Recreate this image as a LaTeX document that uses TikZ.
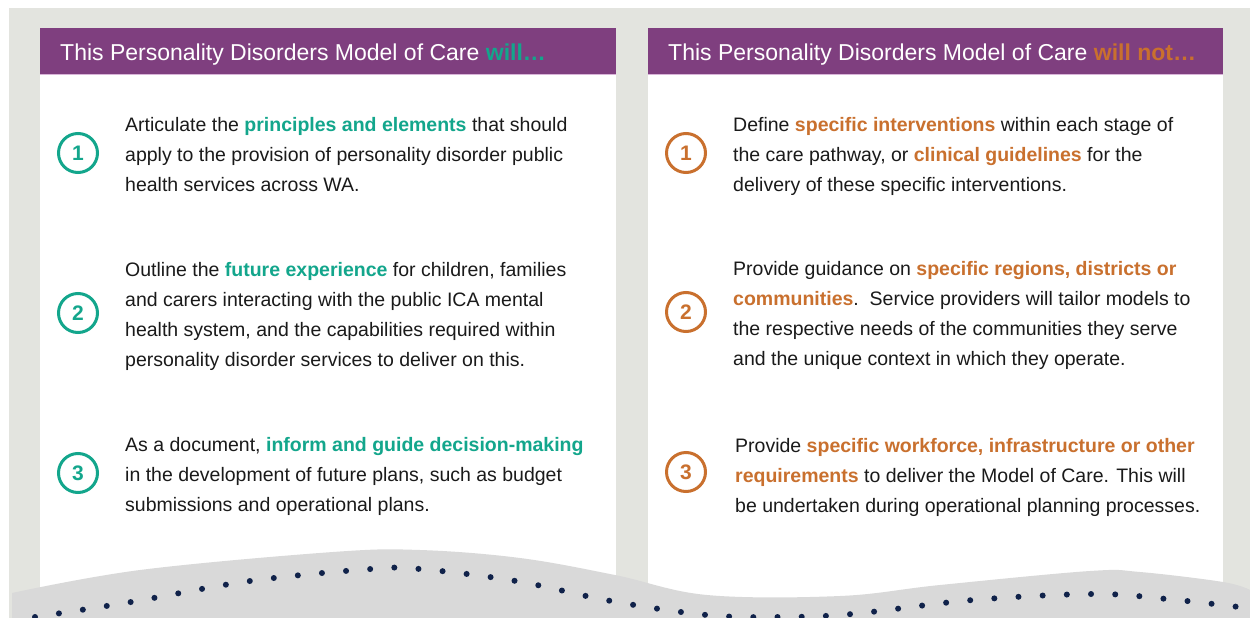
\documentclass[tikz,border=0pt]{standalone}
\usepackage{fontspec}
\setmainfont{Liberation Sans}
\usetikzlibrary{positioning}

\definecolor{pageGrey}{HTML}{E3E4DF}
\definecolor{waveGrey}{HTML}{D9D9D9}
\definecolor{mocPurple}{HTML}{7F3F7F}
\definecolor{headerEdge}{HTML}{D8B4D8}
\definecolor{willTeal}{HTML}{13A68C}
\definecolor{notOrange}{HTML}{C9702E}
\definecolor{dotNavy}{HTML}{10224A}
\definecolor{bodyText}{HTML}{1A1A1A}

\newcommand{\willdo}[1]{\textcolor{willTeal}{\textbf{#1}}}
\newcommand{\willnot}[1]{\textcolor{notOrange}{\textbf{#1}}}

\begin{document}
\begin{tikzpicture}[x=1pt, y=-1pt,
        panel/.style={fill=white},
        header/.style={anchor=base west, inner sep=0pt, text=white, font=\fontsize{23}{28}\selectfont},
        numcircle/.style={circle, draw=#1, line width=3pt, minimum size=39pt, inner sep=0pt, text=#1, font=\fontsize{21}{24}\selectfont},
        item/.style={anchor=base west, inner sep=0pt, align=left, text=bodyText, font=\fontsize{19.5}{30}\selectfont},
        ]
        \useasboundingbox (0,0) rectangle (1250,618);
        \fill[pageGrey] (9,8) rectangle (1250,618);

        % the two panels
        \fill[panel] (40,28) rectangle (616,618);
        \fill[panel] (648,28) rectangle (1223,618);
        \fill[mocPurple] (40,28) rectangle (616,75);
        \fill[mocPurple] (648,28) rectangle (1223,75);
        \draw[headerEdge, line width=1pt] (40,75) -- (616,75);
        \draw[headerEdge, line width=1pt] (648,75) -- (1223,75);

        \node (headWill) at (60,60) [header] {This Personality Disorders Model of Care \textcolor{willTeal}{\textbf{will…}}};
        \node (headNot) at (668,60) [header] {This Personality Disorders Model of Care \textcolor{notOrange}{\textbf{will not…}}};

        % left column: will (text anchored on its last baseline)
        \node (will1) at (78,153) [numcircle=willTeal] {\textbf{1}};
        \node (will2) at (78,313) [numcircle=willTeal] {\textbf{2}};
        \node (will3) at (78,473) [numcircle=willTeal] {\textbf{3}};

        \node (willText1) at (125,191) [item] {Articulate the \willdo{principles and elements} that should\\
            apply to the provision of personality disorder public\\
            health services across WA.};
        \node (willText2) at (125,366) [item] {Outline the \willdo{future experience} for children, families\\
            and carers interacting with the public ICA mental\\
            health system, and the capabilities required within\\
            personality disorder services to deliver on this.};
        \node (willText3) at (125,511) [item] {As a document, \willdo{inform and guide decision-making}\\
            in the development of future plans, such as budget\\
            submissions and operational plans.};

        % right column: will not
        \node (not1) at (686,153) [numcircle=notOrange] {\textbf{1}};
        \node (not2) at (686,312) [numcircle=notOrange] {\textbf{2}};
        \node (not3) at (686,472) [numcircle=notOrange] {\textbf{3}};

        \node (notText1) at (733,191) [item] {Define \willnot{specific interventions} within each stage of\\
            the care pathway, or \willnot{clinical guidelines} for the\\
            delivery of these specific interventions.};
        \node (notText2) at (733,365) [item] {Provide guidance on \willnot{specific regions, districts or}\\
            \willnot{communities}.\ \ Service providers will tailor models to\\
            the respective needs of the communities they serve\\
            and the unique context in which they operate.};
        \node (notText3) at (735,512) [item] {Provide \willnot{specific workforce, infrastructure or other}\\
            \willnot{requirements} to deliver the Model of Care. This will\\
            be undertaken during operational planning processes.};

        % wave along the bottom
        \fill[waveGrey] plot[smooth, tension=0.6] coordinates {(12,593) (140,570) (333,552) (420,550) (520,558) (615,575) (707,595) (840,596) (940,585) (1090,571) (1140,572) (1223,582) (1250,590)}
            -- (1250,618) -- (12,618) -- cycle;
        \draw[dotNavy, line width=6pt, line cap=round, dash pattern=on 0pt off 24.2pt] plot[smooth, tension=0.6] coordinates {(35,617) (131,602) (250,581) (371,569) (420,569) (516,581) (611,601) (707,615) (780,617) (852,614) (973,600) (1094,594) (1167,599) (1239,607)};
    \end{tikzpicture}
\end{document}
